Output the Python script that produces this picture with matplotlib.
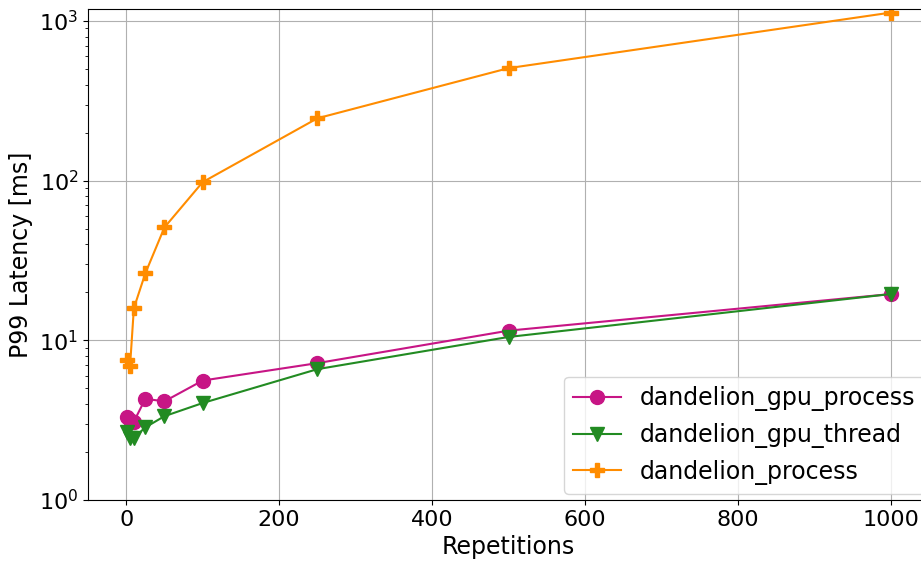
import matplotlib
matplotlib.use("Agg")
import matplotlib.pyplot as plt

reps = [1, 5, 10, 25, 50, 100, 250, 500, 1000]
gpu_process = [3.3, 3.15, 3.1, 4.3, 4.15, 5.6, 7.2, 11.5, 19.5]
gpu_thread = [2.65, 2.45, 2.45, 2.85, 3.35, 4.05, 6.6, 10.5, 19.5]
process = [7.5, 6.9, 15.9, 26.3, 51, 98, 246, 507, 1130]

plt.rcParams["font.size"] = 16

W, H = 921, 562
fig = plt.figure(figsize=(W / 100, H / 100), dpi=100)
# axes run slightly past the right edge, like the cropped original
ax = fig.add_axes([88 / W, (H - 500) / H, (929 - 88) / W, (500 - 9) / H])

ax.plot(reps, gpu_process, marker="o", markersize=10, color="mediumvioletred",
        label="dandelion_gpu_process")
ax.plot(reps, gpu_thread, marker="v", markersize=10, color="forestgreen",
        label="dandelion_gpu_thread")
ax.plot(reps, process, marker="P", markersize=10, color="darkorange",
        label="dandelion_process")

ax.set_yscale("log")
ax.set_ylim(1, 1190)
ax.set_xlim(-50, 1050)
ax.grid(True, which="major", color="#b0b0b0")
ax.set_xlabel("Repetitions", fontsize=17)
ax.set_ylabel("P99 Latency [ms]", fontsize=17)
ax.legend(loc="lower right", fontsize=17, bbox_to_anchor=(1.0085, -0.012))

fig.savefig("out.png")
